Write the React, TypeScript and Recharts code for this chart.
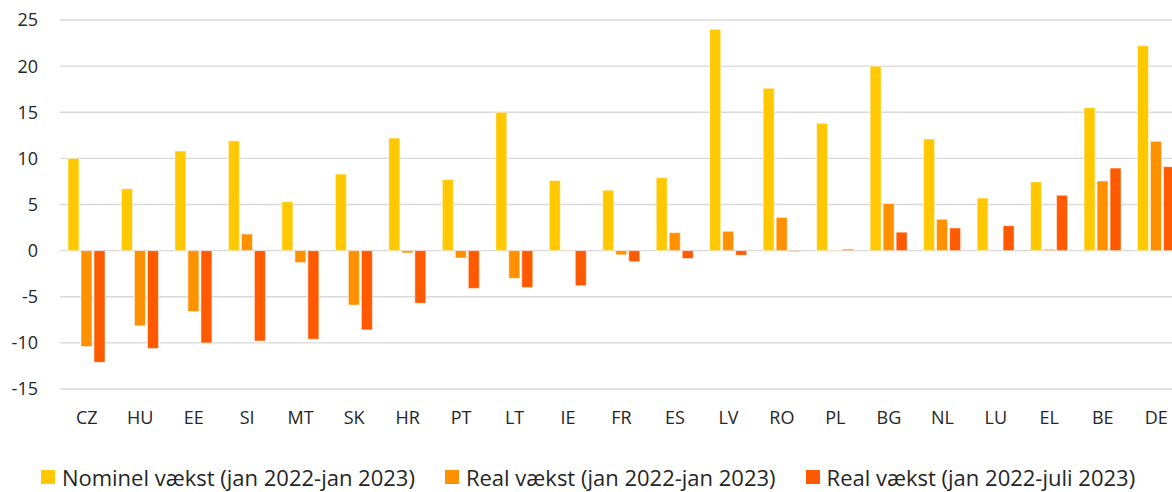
import {
  BarChart,
  Bar,
  XAxis,
  YAxis,
  CartesianGrid,
  Legend,
} from 'recharts';

const countries = [
  'CZ', 'HU', 'EE', 'SI', 'MT', 'SK', 'HR', 'PT', 'LT', 'IE', 'FR',
  'ES', 'LV', 'RO', 'PL', 'BG', 'NL', 'LU', 'EL', 'BE', 'DE',
];

// Nominel vækst (jan 2022-jan 2023)
const nominal = [
  10.0, 6.7, 10.8, 11.9, 5.3, 8.3, 12.2, 7.7, 15.0, 7.6, 6.55,
  7.9, 24.0, 17.6, 13.8, 20.0, 12.1, 5.7, 7.45, 15.5, 22.2,
];

// Real vækst (jan 2022-jan 2023)
const realJan = [
  -10.4, -8.15, -6.6, 1.8, -1.3, -5.9, -0.25, -0.8, -3.0, -0.05, -0.45,
  1.95, 2.1, 3.6, 0.05, 5.1, 3.4, 0, 0.15, 7.55, 11.85,
];

// Real vækst (jan 2022-juli 2023)
const realJul = [
  -12.1, -10.6, -10.0, -9.8, -9.6, -8.6, -5.7, -4.1, -4.0, -3.8, -1.2,
  -0.85, -0.5, -0.1, 0.15, 2.0, 2.45, 2.7, 6.0, 8.95, 9.1,
];

const yTicks = [-15, -10, -5, 0, 5, 10, 15, 20, 25];

const SERIES = [
  { key: 'nominal', name: 'Nominel vækst (jan 2022-jan 2023)', color: '#ffc800' },
  { key: 'realJan', name: 'Real vækst (jan 2022-jan 2023)', color: '#ff9000' },
  { key: 'realJul', name: 'Real vækst (jan 2022-juli 2023)', color: '#ff5a00' },
];

const rows = countries.map((country, i) => ({
  country,
  nominal: nominal[i],
  realJan: realJan[i],
  realJul: realJul[i],
}));

const FONT = '"Open Sans", "Noto Sans", sans-serif';
const TEXT = '#262626';

function LegendContent() {
  return (
    <div
      style={{
        display: 'flex',
        justifyContent: 'center',
        alignItems: 'center',
        gap: 30,
        height: 30,
        fontFamily: FONT,
        fontSize: 22,
        lineHeight: '24px',
        color: TEXT,
        paddingLeft: 4,
      }}
    >
      {SERIES.map((s) => (
        <div key={s.key} style={{ display: 'flex', alignItems: 'center', gap: 7 }}>
          <span style={{ width: 14, height: 14, background: s.color, display: 'inline-block' }} />
          <span style={{ whiteSpace: 'nowrap' }}>{s.name}</span>
        </div>
      ))}
    </div>
  );
}

export default function App() {
  return (
    <div
      style={{
        position: 'absolute',
        left: 0,
        top: 0,
        width: 1172,
        height: 492,
        overflow: 'hidden',
        background: '#fff',
      }}
    >
      <BarChart
        width={1183}
        height={492}
        data={rows}
        margin={{ top: 20, right: 0, bottom: 0, left: 0 }}
        barCategoryGap={8}
        barGap={2}
      >
        <CartesianGrid vertical={false} stroke="#d9d9d9" strokeWidth={1.3} />
        <XAxis
          dataKey="country"
          axisLine={false}
          tickLine={false}
          interval={0}
          height={73}
          tickMargin={16}
          tick={{ fontSize: 18, fontFamily: FONT, fill: TEXT }}
        />
        <YAxis
          domain={[-15, 25]}
          ticks={yTicks}
          width={60}
          axisLine={false}
          tickLine={false}
          tickMargin={16}
          tick={{ fontSize: 18, fontFamily: FONT, fill: TEXT }}
        />
        <Legend
          verticalAlign="bottom"
          height={30}
          wrapperStyle={{ left: 0, width: 1172, height: 30 }}
          content={() => <LegendContent />}
        />
        {SERIES.map((s) => (
          <Bar
            key={s.key}
            dataKey={s.key}
            name={s.name}
            fill={s.color}
            stroke="#ffffff"
            strokeOpacity={0.5}
            strokeWidth={1}
            isAnimationActive={false}
          />
        ))}
      </BarChart>
    </div>
  );
}
